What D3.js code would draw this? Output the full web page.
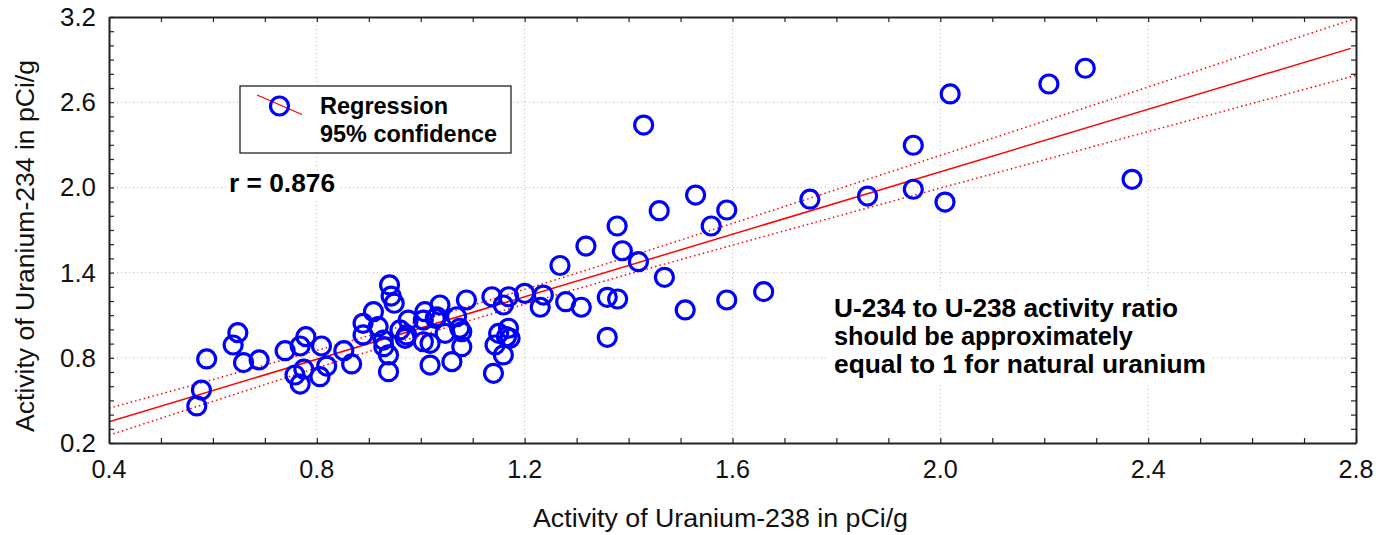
<!DOCTYPE html>
<html><head><meta charset="utf-8">
<script src="https://cdn.jsdelivr.net/npm/d3@7"></script>
<style>body{margin:0;background:#fff;}svg{display:block;font-family:Arial,"Liberation Sans",sans-serif;}</style>
</head><body><svg id="c" width="1383" height="535"></svg>
<script>
const pointsX = [0.569,0.578,0.588,0.639,0.648,0.659,0.689,0.739,0.758,0.768,0.775,0.768,0.779,0.806,0.809,0.819,0.852,0.867,
0.889,0.889,0.909,0.918,0.928,0.929,0.938,0.938,0.940,0.943,0.949,0.960,0.976,0.973,1.008,1.028,1.005,1.018,1.037,1.031,1.047,
1.079,1.069,1.088,1.018,1.079,1.060,1.137,1.140,1.150,1.169,1.165,1.143,1.159,1.159,1.169,1.200,1.236,1.230,1.279,1.309,1.359,
1.379,1.359,1.268,1.318,1.388,1.419,1.469,1.378,1.459,1.529,1.559,1.589,1.429,1.509,1.589,1.660,1.749,1.860,1.948,1.948,2.009,
2.019,2.209,2.279,2.369,1.005,1.075,1.172,0.970];
const pointsY = [0.461,0.573,0.792,0.890,0.977,0.766,0.785,0.850,0.679,0.615,0.720,0.883,0.949,0.667,0.883,0.742,0.850,0.757,
1.043,0.961,1.125,1.019,0.925,0.878,0.820,0.702,1.313,1.235,1.184,0.996,1.066,0.961,1.125,1.078,0.913,0.749,1.172,1.089,0.972,
0.984,1.089,1.207,0.902,0.878,0.773,1.230,0.691,0.972,1.008,0.949,0.890,0.820,1.172,1.230,1.254,1.242,1.156,1.195,1.156,1.226,
1.214,0.944,1.450,1.587,1.554,1.477,1.367,1.728,1.836,1.946,1.728,1.841,2.439,1.137,1.207,1.266,1.917,1.939,1.987,2.297,1.897,
2.658,2.728,2.839,2.057,1.066,1.008,0.937,0.937];
const regX = [0.4, 2.79];
const regY = [0.35, 2.979];
const bandX = [0.4,0.6,0.8,1.0,1.2,1.4,1.6,1.8,2.0,2.2,2.4,2.6,2.8];
const bandUpper = [0.445,0.647,0.852,1.062,1.282,1.512,1.747,1.985,2.225,2.466,2.707,2.949,3.191];
const bandLower = [0.255,0.493,0.729,0.958,1.178,1.389,1.593,1.795,1.995,2.194,2.393,2.591,2.789];
const xTickLabels = ["0.4","0.8","1.2","1.6","2.0","2.4","2.8"];
const yTickLabels = ["0.2","0.8","1.4","2.0","2.6","3.2"];
const xTitle = "Activity of Uranium-238 in pCi/g";
const yTitle = "Activity of Uranium-234 in pCi/g";
const legendLabels = ["Regression","95% confidence"];
const rLabel = "r = 0.876";
const noteLines = ["U-234 to U-238 activity ratio","should be approximately","equal to 1 for natural uranium"];

const svg = d3.select("#c");
const L=109, T=17, R=1356, B=443;
const x = d3.scaleLinear().domain([0.4,2.8]).range([L,R]);
const y = d3.scaleLinear().domain([0.2,3.2]).range([B,T]);
const xMajor = xTickLabels.map(Number), yMajor = yTickLabels.map(Number);

// grid
const g = svg.append("g");
g.selectAll(".gx").data(xMajor.slice(1,-1)).join("line")
  .attr("x1",d=>x(d)).attr("x2",d=>x(d)).attr("y1",T).attr("y2",B)
  .attr("stroke","#bbb").attr("stroke-width",1).attr("stroke-dasharray","1,3");
g.selectAll(".gy").data(yMajor.slice(1,-1)).join("line")
  .attr("y1",d=>y(d)).attr("y2",d=>y(d)).attr("x1",L).attr("x2",R)
  .attr("stroke","#bbb").attr("stroke-width",1).attr("stroke-dasharray","1,3");

svg.append("clipPath").attr("id","pc").append("rect").attr("x",L).attr("y",T).attr("width",R-L).attr("height",B-T);
const plot = svg.append("g").attr("clip-path","url(#pc)");

// bands
const line = d3.line().x(d=>x(d[0])).y(d=>y(d[1])).curve(d3.curveMonotoneX);
[bandUpper,bandLower].forEach(b=>{
  plot.append("path").datum(bandX.map((v,i)=>[v,b[i]])).attr("d",line)
    .attr("fill","none").attr("stroke","#ff0000").attr("stroke-width",1.5).attr("stroke-dasharray","1.5,3");
});
plot.append("path").datum(regX.map((v,i)=>[v,regY[i]])).attr("d",d3.line().x(d=>x(d[0])).y(d=>y(d[1])))
  .attr("fill","none").attr("stroke","#ff0000").attr("stroke-width",1.5);

// points
plot.selectAll("circle.p").data(pointsX.map((v,i)=>[v,pointsY[i]])).join("circle")
  .attr("cx",d=>x(d[0])).attr("cy",d=>y(d[1])).attr("r",9)
  .attr("fill","none").attr("stroke","#0000ff").attr("stroke-width",3.2);

// axes ticks (inward, all sides)
const axG = svg.append("g");
const xt = d3.range(0,25).map(i=>0.4+i*0.1);
const yt = d3.range(0,31).map(i=>0.2+i*0.1);
axG.append("g").attr("transform",`translate(0,${B})`).call(d3.axisBottom(x).tickValues(xt).tickSizeInner(-5).tickSizeOuter(0).tickFormat(""));
axG.append("g").attr("transform",`translate(0,${T})`).call(d3.axisTop(x).tickValues(xt).tickSizeInner(-5).tickSizeOuter(0).tickFormat(""));
axG.append("g").attr("transform",`translate(${L},0)`).call(d3.axisLeft(y).tickValues(yt).tickSizeInner(-5).tickSizeOuter(0).tickFormat(""));
axG.append("g").attr("transform",`translate(${R},0)`).call(d3.axisRight(y).tickValues(yt).tickSizeInner(-5).tickSizeOuter(0).tickFormat(""));
axG.selectAll(".domain").attr("stroke","#222").attr("stroke-width",2);
axG.selectAll(".tick line").attr("stroke","#222").attr("stroke-width",1.2);

// tick labels
svg.selectAll(".xl").data(xTickLabels).join("text").attr("x",d=>x(+d)).attr("y",478)
  .attr("text-anchor","middle").attr("font-size",25).attr("fill","#111")
  .attr("textLength",35).attr("lengthAdjust","spacingAndGlyphs").text(d=>d);
svg.selectAll(".yl").data(yTickLabels).join("text").attr("x",96).attr("y",d=>y(+d)+9)
  .attr("text-anchor","end").attr("font-size",25).attr("fill","#111")
  .attr("textLength",36).attr("lengthAdjust","spacingAndGlyphs").text(d=>d);

// titles
svg.append("text").attr("x",720.5).attr("y",527).attr("text-anchor","middle").attr("font-size",25).attr("fill","#111")
  .attr("textLength",375).attr("lengthAdjust","spacingAndGlyphs").text(xTitle);
svg.append("text").attr("transform","translate(34,246) rotate(-90)").attr("text-anchor","middle").attr("font-size",25).attr("fill","#111")
  .attr("textLength",372).attr("lengthAdjust","spacingAndGlyphs").text(yTitle);

// legend
const lg = svg.append("g");
lg.append("rect").attr("x",240).attr("y",86).attr("width",271).attr("height",67).attr("fill","#fff").attr("stroke","#111").attr("stroke-width",1.2);
lg.append("line").attr("x1",257).attr("y1",95).attr("x2",302).attr("y2",114.5).attr("stroke","#ff0000").attr("stroke-width",1.3);
lg.append("circle").attr("cx",279.5).attr("cy",106).attr("r",9).attr("fill","none").attr("stroke","#0000ff").attr("stroke-width",3.2);
const legW = [128,177];
lg.selectAll("text").data(legendLabels).join("text").attr("x",320).attr("y",(d,i)=>114+i*27.5)
  .attr("font-size",23.5).attr("font-weight","bold").attr("fill","#000")
  .attr("textLength",(d,i)=>legW[i]).attr("lengthAdjust","spacingAndGlyphs").text(d=>d);

// r label
svg.append("rect").attr("x",226).attr("y",170).attr("width",114).attr("height",28).attr("fill","#fff");
svg.append("text").attr("x",229).attr("y",192).attr("font-size",25).attr("font-weight","bold").attr("fill","#000")
  .attr("textLength",106).attr("lengthAdjust","spacingAndGlyphs").text(rLabel);

// note
const noteW = [344,299,372];
svg.append("rect").attr("x",828).attr("y",292).attr("width",384).attr("height",90).attr("fill","#fff");
svg.selectAll(".nt").data(noteLines).join("text").attr("x",834).attr("y",(d,i)=>317+i*27.8)
  .attr("font-size",26).attr("font-weight","bold").attr("fill","#000")
  .attr("textLength",(d,i)=>noteW[i]).attr("lengthAdjust","spacingAndGlyphs").text(d=>d);
</script></body></html>
